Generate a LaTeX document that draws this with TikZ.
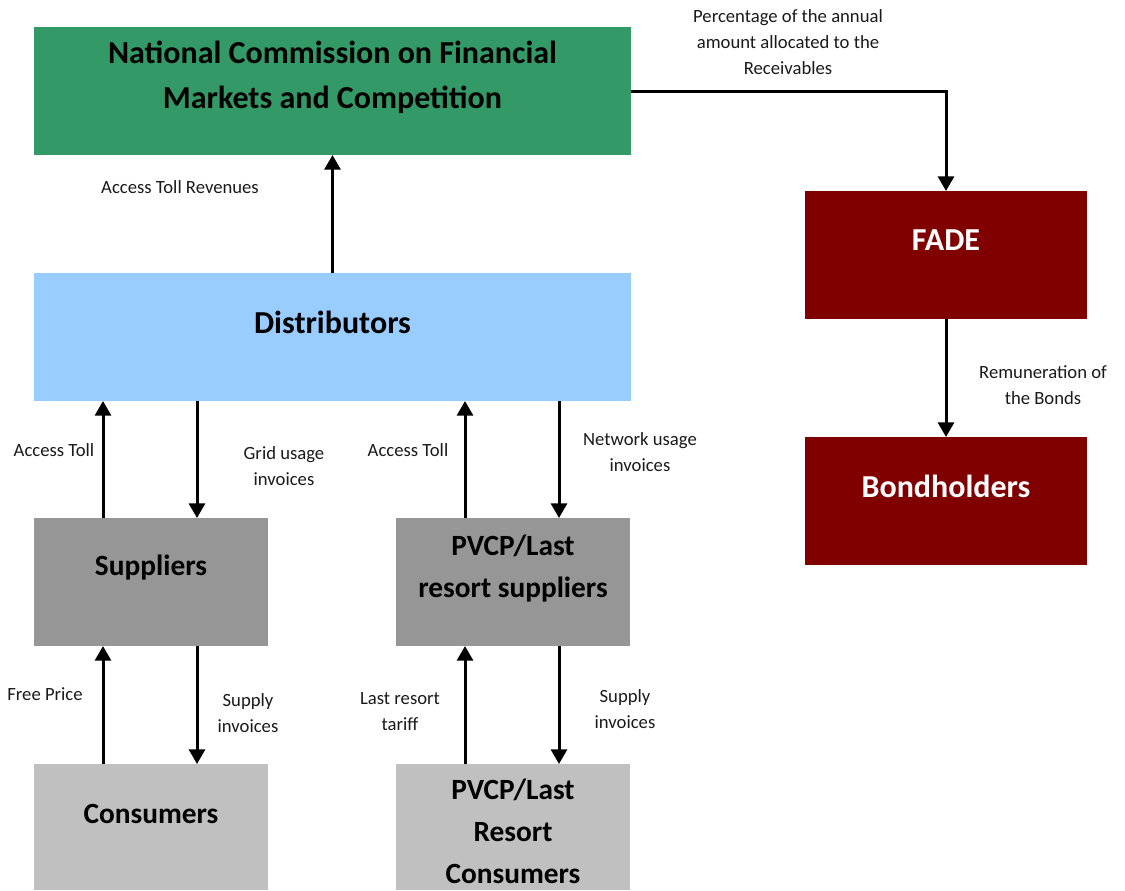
\documentclass[tikz,border=0pt]{standalone}
\usepackage{fontspec}
\setmainfont{Carlito}
\usetikzlibrary{arrows.meta}
\definecolor{cgreen}{HTML}{339966}
\definecolor{cblue}{HTML}{99CCFF}
\definecolor{cgray}{HTML}{969696}
\definecolor{clgray}{HTML}{C0C0C0}
\definecolor{cred}{HTML}{800000}
\definecolor{ctext}{HTML}{1A1A1A}
\begin{document}
\begin{tikzpicture}[x=0.75pt,y=-0.75pt,
  box/.style={draw=none, inner sep=0pt, outer sep=0pt},
  wide/.style={box, minimum width=447.75pt, minimum height=96pt},
  small/.style={box, minimum width=175.5pt, minimum height=96pt},
  lowbox/.style={box, minimum width=175.5pt, minimum height=94.5pt},
  fadebox/.style={box, minimum width=211.5pt, minimum height=96pt, fill=cred},
  boxtext/.style={inner sep=0pt, align=center, font=\bfseries\fontsize{24}{33.75}\selectfont},
  smalltext/.style={inner sep=0pt, align=center, font=\bfseries\fontsize{22}{31.5}\selectfont},
  lbl/.style={inner sep=0pt, align=center, text=ctext, font=\fontsize{14}{19.5}\selectfont},
  arr/.style={line width=2.25pt, -{Triangle[width=12pt,length=11pt]}}]
\useasboundingbox[fill=white] (0,0) rectangle (1125,890);
% boxes
\node[wide, fill=cgreen] (ncfmc) at (332.5,91) {};
\node[wide, fill=cblue] (dist) at (332.5,337) {};
\node[small, fill=cgray] (sup) at (151,582) {};
\node[small, fill=cgray] (pvsup) at (513,582) {};
\node[lowbox, fill=clgray] (cons) at (151,827) {};
\node[lowbox, fill=clgray] (pvcons) at (513,827) {};
\node[fadebox] (fade) at (946,255) {};
\node[fadebox] (bond) at (946,501) {};
% box texts
\node[boxtext] (ncfmcT) at (332.5,77.5) {National Commission on Financial\\Markets and Competition};
\node[boxtext] (distT) at (332.5,322) {Distributors};
\node[smalltext] (supT) at (151,568) {Suppliers};
\node[smalltext] (pvsupT) at (513,569) {PVCP/Last\\resort suppliers};
\node[smalltext] (consT) at (151,814) {Consumers};
\node[smalltext] (pvconsT) at (513,831) {PVCP/Last\\Resort\\Consumers};
\node[boxtext, text=white] (fadeT) at (946,240) {FADE};
\node[boxtext, text=white] (bondT) at (946,486) {Bondholders};
% arrows
\draw[arr] (dist.north) -- (ncfmc.south);
\draw[arr] (ncfmc.east) -| (fade.north);
\draw[arr] (fade.south) -- (bond.north);
\draw[arr] ([xshift=-36pt]sup.north) coordinate (a1) -- (a1 |- dist.south);
\draw[arr] ([xshift=34.5pt]sup.north) coordinate (a2) (a2 |- dist.south) -- (a2);
\draw[arr] ([xshift=-36pt]pvsup.north) coordinate (a3) -- (a3 |- dist.south);
\draw[arr] ([xshift=34.5pt]pvsup.north) coordinate (a4) (a4 |- dist.south) -- (a4);
\draw[arr] ([xshift=-36pt]cons.north) coordinate (b1) -- (b1 |- sup.south);
\draw[arr] ([xshift=34.5pt]cons.north) coordinate (b2) (b2 |- sup.south) -- (b2);
\draw[arr] ([xshift=-36pt]pvcons.north) coordinate (b3) -- (b3 |- pvsup.south);
\draw[arr] ([xshift=34.5pt]pvcons.north) coordinate (b4) (b4 |- pvsup.south) -- (b4);
% labels
\node[lbl] (l1) at (180,187) {Access Toll Revenues};
\node[lbl] (l2) at (788,42) {Percentage of the annual\\amount allocated to the\\Receivables};
\node[lbl] (l3) at (1043,385) {Remuneration of\\the Bonds};
\node[lbl] (l4) at (54,450) {Access Toll};
\node[lbl] (l5) at (284,466) {Grid usage\\invoices};
\node[lbl] (l6) at (408,450) {Access Toll};
\node[lbl] (l7) at (640,452) {Network usage\\invoices};
\node[lbl] (l8) at (45,694) {Free Price};
\node[lbl] (l9) at (248,713) {Supply\\invoices};
\node[lbl] (l10) at (400,712) {Last resort\\tariff};
\node[lbl] (l11) at (625,709) {Supply\\invoices};
\end{tikzpicture}
\end{document}
